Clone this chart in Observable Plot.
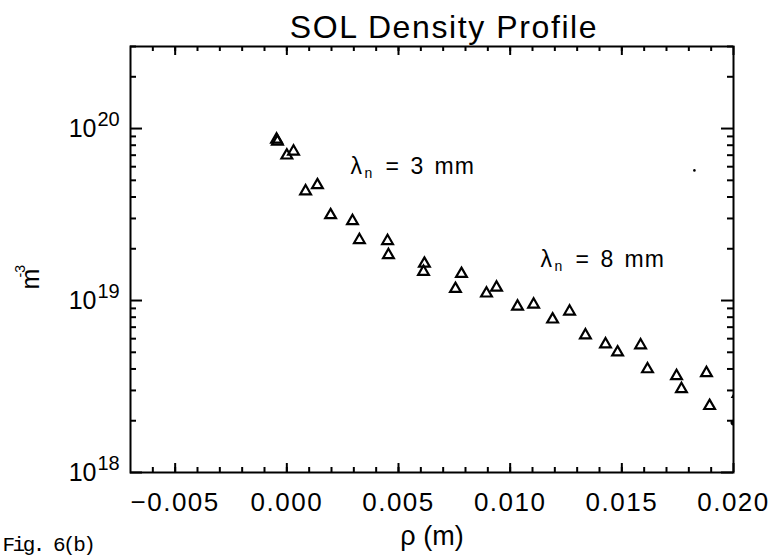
<!DOCTYPE html>
<html>
<head>
<meta charset="utf-8">
<script src="https://cdn.jsdelivr.net/npm/d3@7"></script>
<script src="https://cdn.jsdelivr.net/npm/@observablehq/plot@0.6"></script>
<style>
  html, body { margin: 0; padding: 0; background: #fff; }
  svg { font-family: "Liberation Sans", Arial, sans-serif; }
</style>
</head>
<body>
<div id="chart"></div>
<script>
// ---- data ----
const rho = [-0.00046, -0.00042, 0.0000, 0.0003, 0.00084, 0.00137, 0.00196, 0.00294, 0.00325, 0.00451,
             0.00455, 0.00616, 0.00612, 0.00782, 0.00755, 0.00894, 0.00939, 0.01033, 0.01105, 0.0119,
             0.01266, 0.01337, 0.01427, 0.01481, 0.01584, 0.01615, 0.01745, 0.01767, 0.01879, 0.01893, 0.0202];
const density = [8.64e19, 8.41e19, 6.98e19, 7.36e19, 4.32e19, 4.69e19, 3.14e19, 2.90e19, 2.25e19, 2.22e19,
                 1.84e19, 1.64e19, 1.47e19, 1.43e19, 1.17e19, 1.10e19, 1.19e19, 9.23e18, 9.48e18, 7.77e18,
                 8.64e18, 6.28e18, 5.57e18, 5.00e18, 5.50e18, 3.99e18, 3.64e18, 3.06e18, 3.79e18, 2.44e18, 2.87e18];
const edgeRho = [0.0200];
const edgeDensity = [1.95e18];
const speckRho = [0.01825];
const speckDensity = [5.71e19];

const xMajorTicks = [-0.005, 0.000, 0.005, 0.010, 0.015, 0.020];
const xMinorTicks = d3.range(-6, 20).map(i => i / 1000);
const yMajorTicks = [1e18, 1e19, 1e20];
const yExponents = ["18", "19", "20"];
const yMinorTicks = [];
for (const dec of [1e18, 1e19, 1e20]) for (let k = 2; k <= 9; k++) if (k * dec <= 3e20) yMinorTicks.push(k * dec);

const annoRho = [0.00285, 0.01136];
const annoDensity = [5.42e19, 1.57e19];
const annoValue = ["3", "8"];

const title = "SOL Density Profile";
const xLabel = "ρ (m)";
const caption = "Fig. 6(b)";

// ---- build ----
const points = rho.map((r, i) => ({rho: r, n: density[i]}));
const edge = edgeRho.map((r, i) => ({rho: r, n: edgeDensity[i]}));
const specks = speckRho.map((r, i) => ({rho: r, n: speckDensity[i]}));
const annos = annoRho.map((r, i) => ({rho: r, n: annoDensity[i], v: annoValue[i]}));
const yLab = yMajorTicks.map((v, i) => ({v, e: yExponents[i]}));

const W = 769, H = 557, mL = 130, mR = 36, mT = 46, mB = 85;
const FW = W - mL - mR, FH = H - mT - mB;
const xDom = [-0.007, 0.020], yDom = [1e18, 3e20];
const fmt = d3.format(".3f");

// inward ticks on all four sides
const tk = {stroke: "#000", strokeWidth: 2};
const tickMarks = [
  Plot.ruleX(xMinorTicks, {x: d => d, insetTop: FH - 5, ...tk}),
  Plot.ruleX(xMinorTicks, {x: d => d, insetBottom: FH - 5, ...tk}),
  Plot.ruleX(xMajorTicks, {x: d => d, insetTop: FH - 9, ...tk}),
  Plot.ruleX(xMajorTicks, {x: d => d, insetBottom: FH - 9, ...tk}),
  Plot.ruleY(yMinorTicks, {y: d => d, insetRight: FW - 6, ...tk}),
  Plot.ruleY(yMinorTicks, {y: d => d, insetLeft: FW - 6, ...tk}),
  Plot.ruleY(yMajorTicks, {y: d => d, insetRight: FW - 12, ...tk}),
  Plot.ruleY(yMajorTicks, {y: d => d, insetLeft: FW - 12, ...tk})
];

const plot = Plot.plot({
  width: W, height: H,
  marginLeft: mL, marginRight: mR, marginTop: mT, marginBottom: mB,
  style: {background: "#fff", color: "#000", overflow: "visible"},
  x: {domain: xDom, axis: null},
  y: {type: "log", domain: yDom, axis: null},
  marks: [
    Plot.frame({stroke: "#000", strokeWidth: 2, fill: "none"}),
    ...tickMarks,
    // x tick labels
    Plot.text(xMajorTicks, {x: d => d, frameAnchor: "bottom", lineAnchor: "top", dy: 20,
      text: d => fmt(d), fontSize: 26, fill: "#000"}),
    // y tick labels: "10" + exponent
    Plot.text(yLab, {y: "v", frameAnchor: "left", textAnchor: "end", lineAnchor: "bottom",
      dx: -34, dy: 8, text: () => "10", fontSize: 25, fill: "#000"}),
    Plot.text(yLab, {y: "v", frameAnchor: "left", textAnchor: "start", lineAnchor: "bottom",
      dx: -33, dy: -3, text: "e", fontSize: 20, fill: "#000"}),
    // data
    Plot.dot(points, {x: "rho", y: "n", symbol: "triangle", r: 4, stroke: "#000", strokeWidth: 2.2, fill: "none", clip: true}),
    Plot.dot(edge, {x: "rho", y: "n", r: 3, fill: "#000", clip: true}),
    Plot.dot(specks, {x: "rho", y: "n", r: 1.3, fill: "#000"}),
    // annotations
    Plot.text(annos, {x: "rho", y: "n", text: () => "λ", textAnchor: "start", lineAnchor: "bottom", fontSize: 23, fill: "#000"}),
    Plot.text(annos, {x: "rho", y: "n", text: () => "n", textAnchor: "start", lineAnchor: "bottom", dx: 14, dy: 4, fontSize: 14, fill: "#000"}),
    Plot.text(annos, {x: "rho", y: "n", text: () => "=", textAnchor: "start", lineAnchor: "bottom", dx: 35, fontSize: 23, fill: "#000"}),
    Plot.text(annos, {x: "rho", y: "n", text: "v", textAnchor: "start", lineAnchor: "bottom", dx: 60, fontSize: 23, fill: "#000"}),
    Plot.text(annos, {x: "rho", y: "n", text: () => "mm", textAnchor: "start", lineAnchor: "bottom", dx: 84, fontSize: 23, fill: "#000"}),
    // title, axis labels, caption
    Plot.text([title], {frameAnchor: "top", lineAnchor: "bottom", dx: 12, dy: -9, text: d => d, fontSize: 32, fill: "#000"}),
    Plot.text([xLabel], {frameAnchor: "bottom", lineAnchor: "bottom", dy: 72, text: d => d, fontSize: 27, fill: "#000"}),
    Plot.text(["m"], {frameAnchor: "left", rotate: -90, lineAnchor: "bottom", dx: -92, dy: 30, text: d => d, fontSize: 25, fill: "#000"}),
    Plot.text(["-3"], {frameAnchor: "left", rotate: -90, lineAnchor: "bottom", dx: -106, dy: 18, text: d => d, fontSize: 14, fill: "#000"}),
    Plot.text([caption], {frameAnchor: "bottom-left", textAnchor: "start", lineAnchor: "bottom", dx: -mL + 2, dy: 78, text: d => d, fontSize: 21, fontFamily: "Liberation Mono, monospace", fill: "#000"})
  ]
});
const spacing = (str, px) => d3.select(plot).selectAll("text").filter(function () { return this.textContent === str; }).attr("letter-spacing", px);
spacing(title, "1.6px");
xMajorTicks.forEach(t => spacing(fmt(t), "1.5px"));
spacing("mm", "1px");
spacing(caption, "-2.5px");
document.getElementById("chart").appendChild(plot);
</script>
</body>
</html>
